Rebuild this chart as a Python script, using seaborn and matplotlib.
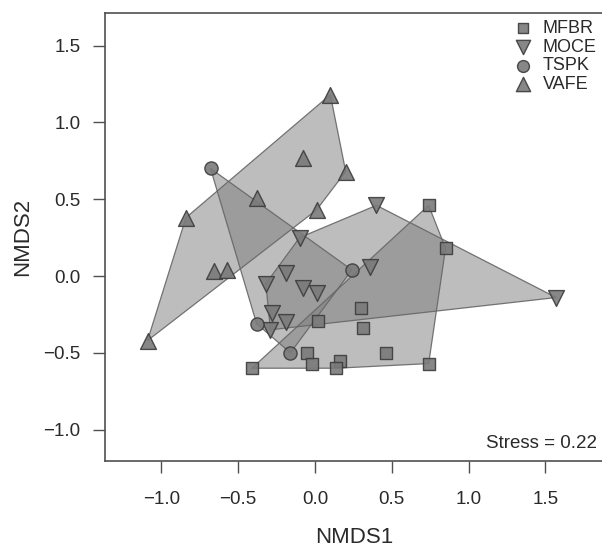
import numpy as np
import pandas as pd
import matplotlib
matplotlib.use("Agg")
import matplotlib.pyplot as plt
import seaborn as sns

# --- DATA ---
MFBR_X = [0.74, 0.85, 0.30, 0.02, 0.31, -0.05, 0.46, -0.02, 0.16, 0.14, 0.74, -0.41]
MFBR_Y = [0.46, 0.18, -0.21, -0.29, -0.34, -0.50, -0.50, -0.57, -0.55, -0.60, -0.57, -0.60]

MOCE_X = [0.40, -0.10, 0.36, -0.19, -0.32, -0.08, 0.01, -0.28, -0.19, -0.29, 1.57]
MOCE_Y = [0.46, 0.25, 0.06, 0.02, -0.05, -0.08, -0.11, -0.24, -0.30, -0.35, -0.14]

TSPK_X = [-0.68, 0.24, -0.38, -0.16]
TSPK_Y = [0.70, 0.04, -0.31, -0.50]

VAFE_X = [0.10, -0.08, 0.20, -0.38, 0.01, -0.84, -0.66, -0.57, -1.09]
VAFE_Y = [1.18, 0.77, 0.68, 0.51, 0.43, 0.38, 0.03, 0.04, -0.42]

GROUPS = ["MFBR", "MOCE", "TSPK", "VAFE"]
STRESS = 0.22

X_TICKS = [-1.0, -0.5, 0.0, 0.5, 1.0, 1.5]
Y_TICKS = [-1.0, -0.5, 0.0, 0.5, 1.0, 1.5]

# --- STYLE ---
MARKERS = {"MFBR": "s", "MOCE": "v", "TSPK": "o", "VAFE": "^"}
SIZES = {"MFBR": 75, "MOCE": 130, "TSPK": 90, "VAFE": 130}
HULL_FILL = "#7d7d7d"
HULL_EDGE = "#666666"
PT_FILL = "#7a7a7a"
PT_EDGE = "#3c3c3c"
AX_COLOR = "#505050"
TXT_COLOR = "#2a2a2a"


def convex_hull(points):
    # Andrew's monotone chain, returns hull vertices in order
    pts = sorted(set(points))
    if len(pts) <= 2:
        return pts

    def cross(o, a, b):
        return (a[0] - o[0]) * (b[1] - o[1]) - (a[1] - o[1]) * (b[0] - o[0])

    lower = []
    for p in pts:
        while len(lower) >= 2 and cross(lower[-2], lower[-1], p) <= 0:
            lower.pop()
        lower.append(p)
    upper = []
    for p in reversed(pts):
        while len(upper) >= 2 and cross(upper[-2], upper[-1], p) <= 0:
            upper.pop()
        upper.append(p)
    return lower[:-1] + upper[:-1]


def build_frame():
    parts = []
    for name, xs, ys in [("MFBR", MFBR_X, MFBR_Y), ("MOCE", MOCE_X, MOCE_Y),
                         ("TSPK", TSPK_X, TSPK_Y), ("VAFE", VAFE_X, VAFE_Y)]:
        parts.append(pd.DataFrame({"NMDS1": xs, "NMDS2": ys, "site": name}))
    return pd.concat(parts, ignore_index=True)


def make_plot():
    sns.set_theme(style="white")
    plt.rcParams["font.family"] = ["Liberation Sans", "DejaVu Sans"]
    plt.rcParams["axes.edgecolor"] = AX_COLOR
    plt.rcParams["xtick.color"] = AX_COLOR
    plt.rcParams["ytick.color"] = AX_COLOR
    plt.rcParams["xtick.labelcolor"] = TXT_COLOR
    plt.rcParams["ytick.labelcolor"] = TXT_COLOR

    df = build_frame()

    fig = plt.figure(figsize=(6.02, 5.49), dpi=100)
    ax = fig.add_axes([105 / 602, 88 / 549, 498 / 602, 448 / 549])

    # hulls first, points on top
    for name in GROUPS:
        sub = df[df["site"] == name]
        hull = convex_hull(list(zip(sub["NMDS1"], sub["NMDS2"])))
        hx = [p[0] for p in hull]
        hy = [p[1] for p in hull]
        ax.fill(hx, hy, facecolor=HULL_FILL, alpha=0.5, edgecolor="none", zorder=1)
        ax.plot(hx + [hx[0]], hy + [hy[0]], color=HULL_EDGE, lw=0.9, alpha=0.9, zorder=2)

    for name in GROUPS:
        sub = df[df["site"] == name]
        sns.scatterplot(data=sub, x="NMDS1", y="NMDS2", marker=MARKERS[name],
                        s=SIZES[name], color=PT_FILL, edgecolor=PT_EDGE,
                        linewidth=1.0, alpha=0.9, label=name, ax=ax, zorder=3)

    ax.set_xlim(-1.367, 1.875)
    ax.set_ylim(-1.204, 1.712)
    ax.set_xticks(X_TICKS)
    ax.set_yticks(Y_TICKS)
    ax.set_xticklabels([f"{t:.1f}".replace("-", "\u2212") for t in X_TICKS])
    ax.set_yticklabels([f"{t:.1f}".replace("-", "\u2212") for t in Y_TICKS])
    ax.tick_params(axis="both", direction="out", length=8.5, width=1.0,
                   labelsize=13.5, bottom=True, left=True)
    ax.tick_params(axis="x", pad=13)
    ax.tick_params(axis="y", pad=9)
    for sp in ax.spines.values():
        sp.set_linewidth(1.2)
        sp.set_color(AX_COLOR)

    ax.set_xlabel("NMDS1", fontsize=16, labelpad=14, color=TXT_COLOR)
    ax.set_ylabel("NMDS2", fontsize=16, labelpad=7.5, color=TXT_COLOR)

    ax.text(0.988, 0.02, f"Stress = {STRESS:.2f}", transform=ax.transAxes,
            ha="right", va="bottom", fontsize=13.5, color=TXT_COLOR)

    leg = ax.legend(loc="upper right", bbox_to_anchor=(1.012, 1.013), frameon=False,
                    fontsize=13, handletextpad=0.1, labelspacing=0.1,
                    borderpad=0.2, markerscale=0.9)
    for t in leg.get_texts():
        t.set_color(TXT_COLOR)

    fig.savefig("out.png", dpi=100)


if __name__ == "__main__":
    make_plot()
